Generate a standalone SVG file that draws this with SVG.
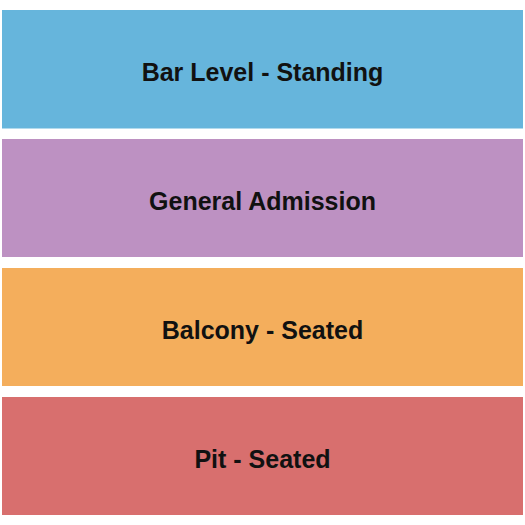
<svg xmlns="http://www.w3.org/2000/svg" width="525" height="525" viewBox="0 0 525 525">
<style>
.t{font-family:"Liberation Sans",Arial,sans-serif;font-weight:bold;font-size:25px;fill:#111111;text-anchor:middle}
</style>
<rect width="525" height="525" fill="#ffffff"/>
<g id="bar-level">
<rect x="2" y="10" width="521" height="118.5" fill="#66b5dc"/>
<text class="t" x="262.5" y="81">Bar Level - Standing</text>
</g>
<g id="general-admission">
<rect x="2" y="139" width="521" height="118" fill="#bd91c2"/>
<text class="t" x="262.5" y="210">General Admission</text>
</g>
<g id="balcony">
<rect x="2" y="268" width="521" height="118" fill="#f4ae5c"/>
<text class="t" x="262.5" y="339">Balcony - Seated</text>
</g>
<g id="pit">
<rect x="2" y="397" width="521" height="118" fill="#d86f6e"/>
<text class="t" x="262.5" y="468">Pit - Seated</text>
</g>
<g id="connectors"/>
</svg>
